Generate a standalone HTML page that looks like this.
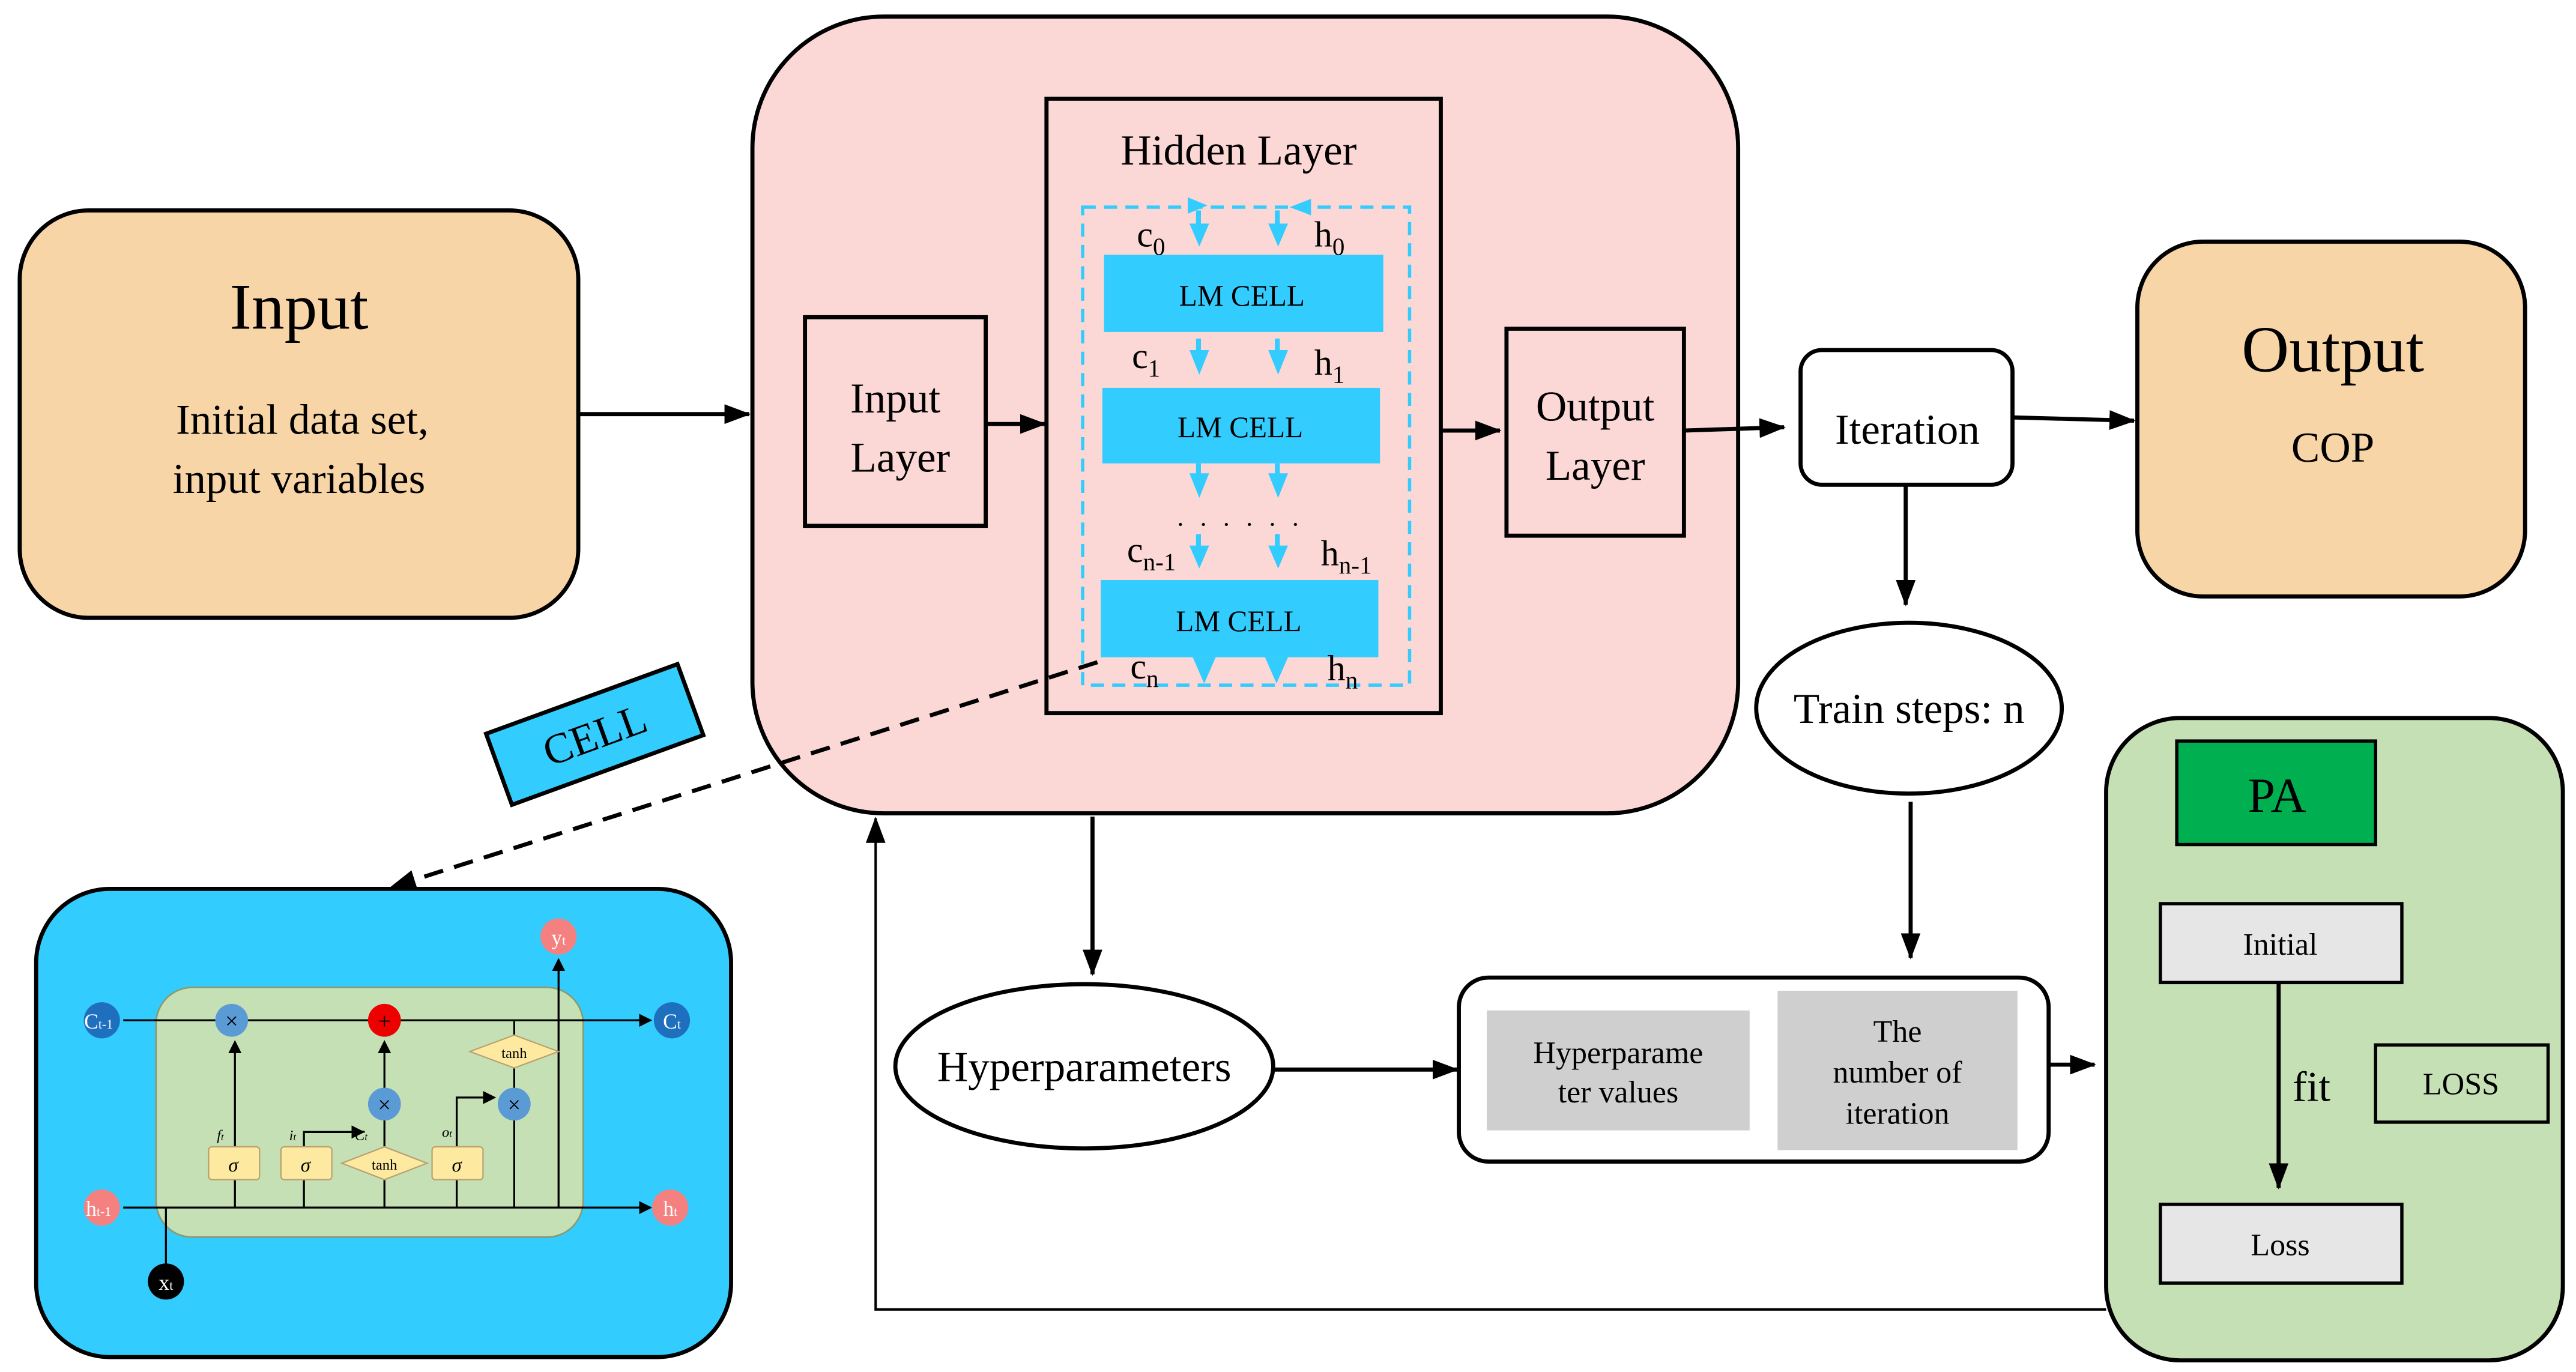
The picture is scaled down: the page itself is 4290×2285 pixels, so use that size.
<!DOCTYPE html>
<html><head><meta charset="utf-8"><style>
html,body{margin:0;padding:0;background:#fff}
svg{display:block}
text{font-family:"Liberation Serif",serif;fill:#000}
</style></head><body>
<svg width="4290" height="2285" viewBox="0 0 1568 835" xmlns="http://www.w3.org/2000/svg">
<defs>
<marker id="a" markerWidth="8" markerHeight="8" refX="7" refY="4" orient="auto" markerUnits="userSpaceOnUse"><path d="M0,0 L8,4 L0,8 Z" fill="#000"/></marker>
<marker id="ab" markerWidth="16" markerHeight="12" refX="15" refY="6" orient="auto" markerUnits="userSpaceOnUse"><path d="M0,0 L16,6 L0,12 Z" fill="#000"/></marker>
</defs>

<rect x="12" y="128" width="340" height="248" rx="42" fill="#f8d5a7" stroke="#000" stroke-width="2.5"/>
<text x="182" y="200" font-size="40" text-anchor="middle">Input</text>
<text x="184" y="264" font-size="26" text-anchor="middle">Initial data set,</text>
<text x="182" y="300" font-size="26" text-anchor="middle">input variables</text>
<line x1="352" y1="252" x2="456" y2="252" stroke="#000" stroke-width="2.5" marker-end="url(#ab)"/>

<rect x="458" y="10" width="600" height="485" rx="80" fill="#fbd8d6" stroke="#000" stroke-width="2.5"/>
<rect x="490" y="193" width="110" height="127" fill="none" stroke="#000" stroke-width="2.5"/>
<text x="545" y="251" font-size="26" text-anchor="middle">Input</text>
<text x="548" y="287" font-size="26" text-anchor="middle">Layer</text>
<line x1="600" y1="258" x2="636" y2="258" stroke="#000" stroke-width="2.5" marker-end="url(#ab)"/>

<rect x="637" y="60" width="240" height="374" fill="none" stroke="#000" stroke-width="2.5"/>
<text x="754" y="100" font-size="26" text-anchor="middle">Hidden  Layer</text>
<rect x="659" y="126" width="199" height="291" fill="none" stroke="#33ccff" stroke-width="2" stroke-dasharray="8,5"/>
<g fill="#33ccff">
<rect x="672" y="155" width="170" height="47"/>
<rect x="671" y="236" width="169" height="46"/>
<rect x="670" y="353" width="169" height="47"/>
</g>
<g font-size="18" text-anchor="middle">
<text x="756" y="186">LM CELL</text>
<text x="755" y="266">LM CELL</text>
<text x="754" y="384">LM CELL</text>
</g>
<g fill="#33ccff">
<path d="M723,120 L735,125 L723,130Z"/><path d="M798,121 L785,126 L798,131Z"/>
<path d="M724,136 L736,136 L730,150Z"/><path d="M772,136 L784,136 L778,150Z"/>
<path d="M724,213 L736,213 L730,228Z"/><path d="M772,213 L784,213 L778,228Z"/>
<path d="M724,288 L736,288 L730,303Z"/><path d="M772,288 L784,288 L778,303Z"/>
<path d="M724,332 L736,332 L730,346Z"/><path d="M772,332 L784,332 L778,346Z"/>
<path d="M726,400 L740,400 L733,416Z"/><path d="M770,400 L784,400 L777,416Z"/>
<rect x="728" y="206" width="3" height="8"/><rect x="776" y="206" width="3" height="8"/>
<rect x="728" y="128" width="3" height="9"/><rect x="776" y="128" width="3" height="9"/>
<rect x="728" y="282" width="3" height="8"/><rect x="776" y="282" width="3" height="8"/>
<rect x="728" y="325" width="3" height="8"/><rect x="776" y="325" width="3" height="8"/>
</g>
<g font-size="22">
<text x="692" y="150">c<tspan font-size="15" dy="5">0</tspan></text>
<text x="800" y="150">h<tspan font-size="15" dy="5">0</tspan></text>
<text x="689" y="224">c<tspan font-size="15" dy="5">1</tspan></text>
<text x="800" y="228">h<tspan font-size="15" dy="5">1</tspan></text>
<text x="686" y="342">c<tspan font-size="15" dy="5">n-1</tspan></text>
<text x="804" y="344">h<tspan font-size="15" dy="5">n-1</tspan></text>
<text x="688" y="413">c<tspan font-size="15" dy="5">n</tspan></text>
<text x="808" y="414">h<tspan font-size="15" dy="5">n</tspan></text>
</g>
<text x="755" y="320" font-size="16" text-anchor="middle" letter-spacing="3">. . . . . .</text>

<line x1="877" y1="262" x2="913" y2="262" stroke="#000" stroke-width="2.5" marker-end="url(#ab)"/>
<rect x="917" y="200" width="108" height="126" fill="none" stroke="#000" stroke-width="2.5"/>
<text x="971" y="256" font-size="26" text-anchor="middle">Output</text>
<text x="971" y="292" font-size="26" text-anchor="middle">Layer</text>
<line x1="1025" y1="262" x2="1086" y2="260" stroke="#000" stroke-width="2.5" marker-end="url(#ab)"/>

<rect x="1096" y="213" width="129" height="82" rx="13" fill="#fff" stroke="#000" stroke-width="2.5"/>
<text x="1161" y="270" font-size="26" text-anchor="middle">Iteration</text>
<line x1="1225" y1="254" x2="1299" y2="256" stroke="#000" stroke-width="2.5" marker-end="url(#ab)"/>
<rect x="1301" y="147" width="236" height="216" rx="40" fill="#f8d5a7" stroke="#000" stroke-width="2.5"/>
<text x="1420" y="226" font-size="40" text-anchor="middle">Output</text>
<text x="1420" y="281" font-size="26" text-anchor="middle">COP</text>
<line x1="1160" y1="295" x2="1160" y2="368" stroke="#000" stroke-width="2.5" marker-end="url(#ab)"/>
<ellipse cx="1162" cy="431" rx="93" ry="52" fill="#fff" stroke="#000" stroke-width="2.5"/>
<text x="1162" y="440" font-size="26" text-anchor="middle">Train steps: n</text>
<line x1="1163" y1="488" x2="1163" y2="583" stroke="#000" stroke-width="2.5" marker-end="url(#ab)"/>

<line x1="665" y1="497" x2="665" y2="593" stroke="#000" stroke-width="2.5" marker-end="url(#ab)"/>
<ellipse cx="660" cy="649" rx="115" ry="50" fill="#fff" stroke="#000" stroke-width="2.5"/>
<text x="660" y="658" font-size="26" text-anchor="middle">Hyperparameters</text>
<line x1="775" y1="651" x2="887" y2="651" stroke="#000" stroke-width="2.5" marker-end="url(#ab)"/>
<rect x="888" y="595" width="359" height="112" rx="18" fill="#fff" stroke="#000" stroke-width="2.5"/>
<rect x="905" y="615" width="160" height="73" fill="#d0cfd0"/>
<rect x="1082" y="603" width="146" height="97" fill="#d0cfd0"/>
<g font-size="19" text-anchor="middle" fill="#222">
<text x="985" y="647">Hyperparame</text>
<text x="985" y="671">ter values</text>
<text x="1155" y="634">The</text>
<text x="1155" y="659">number  of</text>
<text x="1155" y="684">iteration</text>
</g>
<line x1="1247" y1="648" x2="1275" y2="648" stroke="#000" stroke-width="2.5" marker-end="url(#ab)"/>

<rect x="1282" y="437" width="278" height="391" rx="45" fill="#c5e0b4" stroke="#000" stroke-width="2.5"/>
<rect x="1325" y="451" width="121" height="63" fill="#00b050" stroke="#000" stroke-width="2"/>
<text x="1386" y="494" font-size="30" text-anchor="middle">PA</text>
<rect x="1315" y="550" width="147" height="48" fill="#e6e6e6" stroke="#000" stroke-width="2"/>
<text x="1388" y="581" font-size="19" text-anchor="middle">Initial</text>
<rect x="1315" y="733" width="147" height="48" fill="#e6e6e6" stroke="#000" stroke-width="2"/>
<text x="1388" y="764" font-size="19" text-anchor="middle">Loss</text>
<line x1="1387" y1="598" x2="1387" y2="723" stroke="#000" stroke-width="2.5" marker-end="url(#ab)"/>
<text x="1407" y="670" font-size="26" text-anchor="middle">fit</text>
<rect x="1446" y="636" width="105" height="47" fill="none" stroke="#000" stroke-width="2"/>
<text x="1498" y="666" font-size="19" text-anchor="middle">LOSS</text>

<polyline points="1282,797 533,797 533,498" fill="none" stroke="#000" stroke-width="1.5" marker-end="url(#ab)"/>

<g transform="rotate(-20 362 447)">
<rect x="300" y="424" width="124" height="46" fill="#33ccff" stroke="#000" stroke-width="2.5"/>
<text x="362" y="456" font-size="26" text-anchor="middle">CELL</text>
</g>
<line x1="668" y1="403" x2="238" y2="540" stroke="#000" stroke-width="2.5" stroke-dasharray="12,7" marker-end="url(#ab)"/>

<rect x="22" y="541" width="423" height="285" rx="45" fill="#33ccff" stroke="#000" stroke-width="2.5"/>
<rect x="95" y="601" width="260" height="152" rx="22" fill="#c5e0b4" stroke="#8a9a70" stroke-width="1"/>
<g stroke="#000" stroke-width="1.2" fill="none">
<line x1="75" y1="621" x2="396" y2="621" marker-end="url(#a)"/>
<line x1="75" y1="735" x2="396" y2="735" marker-end="url(#a)"/>
<line x1="143" y1="735" x2="143" y2="634" marker-end="url(#a)"/>
<polyline points="185,735 185,689 221,689" marker-end="url(#a)"/>
<line x1="234" y1="735" x2="234" y2="634" marker-end="url(#a)"/>
<polyline points="278,735 278,668 301,668" marker-end="url(#a)"/>
<line x1="313" y1="621" x2="313" y2="735"/>
<line x1="340" y1="735" x2="340" y2="584" marker-end="url(#a)"/>
<line x1="101" y1="735" x2="101" y2="770"/>
</g>
<g stroke="#b8a070" stroke-width="0.8" fill="#fde9a0">
<rect x="127" y="698" width="31" height="20" rx="2"/>
<rect x="171" y="698" width="31" height="20" rx="2"/>
<rect x="263" y="698" width="31" height="20" rx="2"/>
<path d="M208,708 L234,698 L260,708 L234,718Z"/>
<path d="M286,640 L313,630 L340,640 L313,650Z"/>
</g>
<g font-size="12" font-style="italic" text-anchor="middle">
<text x="142" y="713">σ</text><text x="186" y="713">σ</text><text x="278" y="713">σ</text>
</g>
<g font-size="9" text-anchor="middle">
<text x="234" y="712">tanh</text><text x="313" y="644">tanh</text>
</g>
<g font-size="9" font-style="italic">
<text x="132" y="694">f<tspan font-size="6">t</tspan></text>
<text x="176" y="694">i<tspan font-size="6">t</tspan></text>
<text x="216" y="694">C<tspan font-size="6">t</tspan></text>
<text x="269" y="692">o<tspan font-size="6">t</tspan></text>
</g>
<circle cx="141" cy="621" r="10" fill="#5b9bd5"/>
<circle cx="234" cy="621" r="10" fill="#ee0000"/>
<circle cx="234" cy="672" r="10" fill="#5b9bd5"/>
<circle cx="313" cy="672" r="10" fill="#5b9bd5"/>
<circle cx="62" cy="621" r="11" fill="#1f6fbf"/>
<circle cx="409" cy="621" r="11" fill="#1f6fbf"/>
<circle cx="340" cy="570" r="11" fill="#f48080"/>
<circle cx="62" cy="735" r="11" fill="#f48080"/>
<circle cx="408" cy="735" r="11" fill="#f48080"/>
<circle cx="101" cy="780" r="11" fill="#000"/>
<g font-size="14" text-anchor="middle" font-family="Liberation Sans, sans-serif">
<text x="141" y="626">×</text>
<text x="234" y="626">+</text>
<text x="234" y="677">×</text>
<text x="313" y="677">×</text>
</g>
<g font-size="13" text-anchor="middle" style="fill:#fff">
<text x="60" y="626" style="fill:#fff">C<tspan font-size="8">t-1</tspan></text>
<text x="409" y="626" style="fill:#fff">C<tspan font-size="8">t</tspan></text>
<text x="340" y="575" style="fill:#fff">y<tspan font-size="8">t</tspan></text>
<text x="60" y="740" style="fill:#fff">h<tspan font-size="8">t-1</tspan></text>
<text x="408" y="740" style="fill:#fff">h<tspan font-size="8">t</tspan></text>
<text x="101" y="785" style="fill:#fff">x<tspan font-size="8">t</tspan></text>
</g>
</svg>
</body></html>
